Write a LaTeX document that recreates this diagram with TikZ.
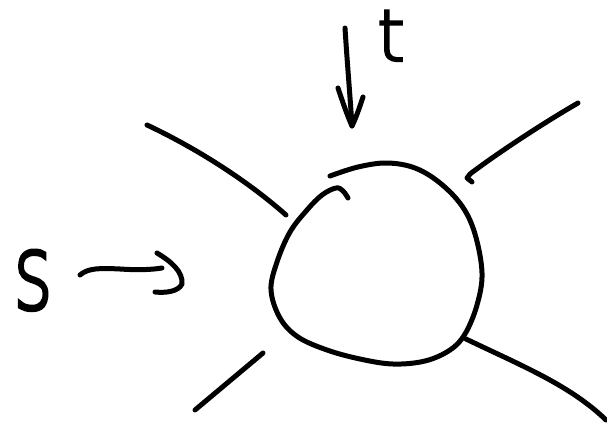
\documentclass[tikz,border=0pt]{standalone}
\usepackage{fontspec}
\newfontfamily\hand[FakeBold=3.2]{DejaVu Sans ExtraLight}
\begin{document}
\begin{tikzpicture}[x=1pt,y=-1pt,
  stroke/.style={line width=5pt, line cap=round, line join=round},
  letter/.style={inner sep=0pt, anchor=base, font=\hand}]
\useasboundingbox (0,0) rectangle (607,433);
% labels
\node[letter, font=\hand\fontsize{105}{105}\selectfont] (s) at (33,309) {\scalebox{0.72}[1]{s}};
\node[letter, font=\hand\fontsize{72}{72}\selectfont] (t) at (391,61) {t};
% blob
\draw[stroke] plot[smooth, tension=0.6] coordinates {
  (330,176) (358,167) (387,163) (415,168) (440,183) (462,206) (475,234)
  (482,273) (477,305) (465,334) (450,350) (425,361) (393,364) (360,359)
  (327,350) (298,337) (280,318) (271,290) (277,262) (290,232) (307,210)
  (322,195) (336,188) (343,191) (348,198)};
\coordinate (blob) at (377,265);
% spokes
\draw[stroke] (147,125) .. controls (200,150) and (250,183) .. (286,215);
\draw[stroke] (578,103) .. controls (540,125) and (495,155) .. (470,174) -- (467,178) -- (472,182);
\draw[stroke] (263,353) -- (195,410);
\draw[stroke] (466,339) .. controls (520,365) and (570,385) .. (606,420);
% s arrow
\coordinate (sa) at (80,275);
\coordinate (sb) at (162,268);
\draw[stroke] (sa) .. controls (88,268) and (100,268) .. (120,269) .. controls (135,270) and (150,270) .. (sb);
\draw[stroke] (157,253) .. controls (172,262) and (183,272) .. (182,284) .. controls (178,292) and (165,293) .. (155,292);
% t arrow
\coordinate (ta) at (345,28);
\coordinate (tb) at (352,126);
\draw[stroke] (ta) .. controls (347,60) and (350,95) .. (tb);
\draw[stroke] (338,88) .. controls (342,100) and (347,115) .. (tb) .. controls (356,118) and (360,106) .. (363,97);
\end{tikzpicture}
\end{document}
